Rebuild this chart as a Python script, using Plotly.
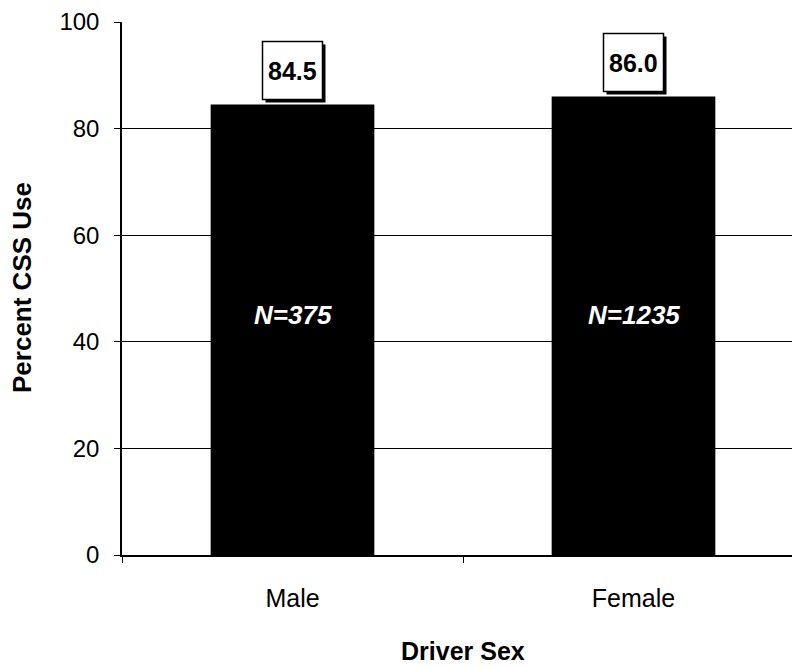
import plotly.graph_objects as go

categories = ["Male", "Female"]
percent_css = [84.5, 86.0]
value_labels = ["84.5", "86.0"]
n_labels = ["N=375", "N=1235"]
n_label_y = [45, 45]
y_ticks = [0, 20, 40, 60, 80, 100]

FONT = "Arial, Liberation Sans, sans-serif"

# page body has an 8px default margin; figure sized so the plot fills the window
OFF = 8
W, H = 800 - OFF, 669 - OFF
L, R, T = 122 - OFF, 0, 22 - OFF
B = H - (555 - OFF)
pw, ph = W - L - R, H - T - B

fig = go.Figure()
fig.add_trace(go.Bar(
    x=categories, y=percent_css,
    marker=dict(color="black", line=dict(width=0)),
    width=0.48, showlegend=False, hoverinfo="skip",
))

shapes = []
annotations = []
for cat, val, lab in zip(categories, percent_css, value_labels):
    # drop shadow
    shapes.append(dict(
        type="rect", layer="above", xref="x", yref="y",
        xsizemode="pixel", ysizemode="pixel", xanchor=cat, yanchor=val,
        x0=-27, x1=33, y0=2, y1=60,
        fillcolor="black", line=dict(width=0),
    ))
    # label box
    shapes.append(dict(
        type="rect", layer="above", xref="x", yref="y",
        xsizemode="pixel", ysizemode="pixel", xanchor=cat, yanchor=val,
        x0=-30, x1=30, y0=5, y1=63,
        fillcolor="white", line=dict(color="black", width=1.5),
    ))
    annotations.append(dict(
        x=cat, y=val, xref="x", yref="y", text="<b>%s</b>" % lab, showarrow=False,
        yanchor="middle", xanchor="center", yshift=34,
        font=dict(family=FONT, size=25, color="black"),
    ))
for cat, lab, ny in zip(categories, n_labels, n_label_y):
    annotations.append(dict(
        x=cat, y=ny, xref="x", yref="y", text="<b><i>%s</i></b>" % lab,
        showarrow=False, font=dict(family=FONT, size=26, color="white"),
    ))

titles = [
    dict(px=22, py=288, text="<b>Percent CSS Use</b>", angle=-90, size=26),
    dict(px=463, py=651, text="<b>Driver Sex</b>", angle=0, size=25),
]
for t in titles:
    annotations.append(dict(
        x=(t["px"] - OFF - L) / pw, y=(H - B - (t["py"] - OFF)) / ph,
        xref="paper", yref="paper", xanchor="center", yanchor="middle",
        text=t["text"], showarrow=False, textangle=t["angle"],
        font=dict(family=FONT, size=t["size"], color="black"),
    ))

fig.update_layout(
    width=W, height=H,
    margin=dict(l=L, r=R, t=T, b=B, autoexpand=False),
    paper_bgcolor="white", plot_bgcolor="white",
    font=dict(family=FONT, size=24, color="black"),
    annotations=annotations, shapes=shapes,
    xaxis=dict(
        type="category", range=[-0.5, -0.5 + pw / 341.0], automargin=False,
        showline=True, linecolor="black", linewidth=1.5,
        ticks="outside", tickson="boundaries", ticklen=6, tickcolor="black",
        showgrid=False, ticklabelstandoff=20,
        tickfont=dict(family=FONT, size=25, color="black"),
    ),
    yaxis=dict(
        range=[0, 100], tickvals=y_ticks, automargin=False,
        showline=True, linecolor="black", linewidth=1.5,
        ticks="outside", ticklen=6, tickcolor="black",
        showgrid=True, gridcolor="black", gridwidth=1,
        zeroline=False, ticklabelstandoff=10,
        tickfont=dict(family=FONT, size=24, color="black"),
    ),
)

fig.write_html("out.html")
